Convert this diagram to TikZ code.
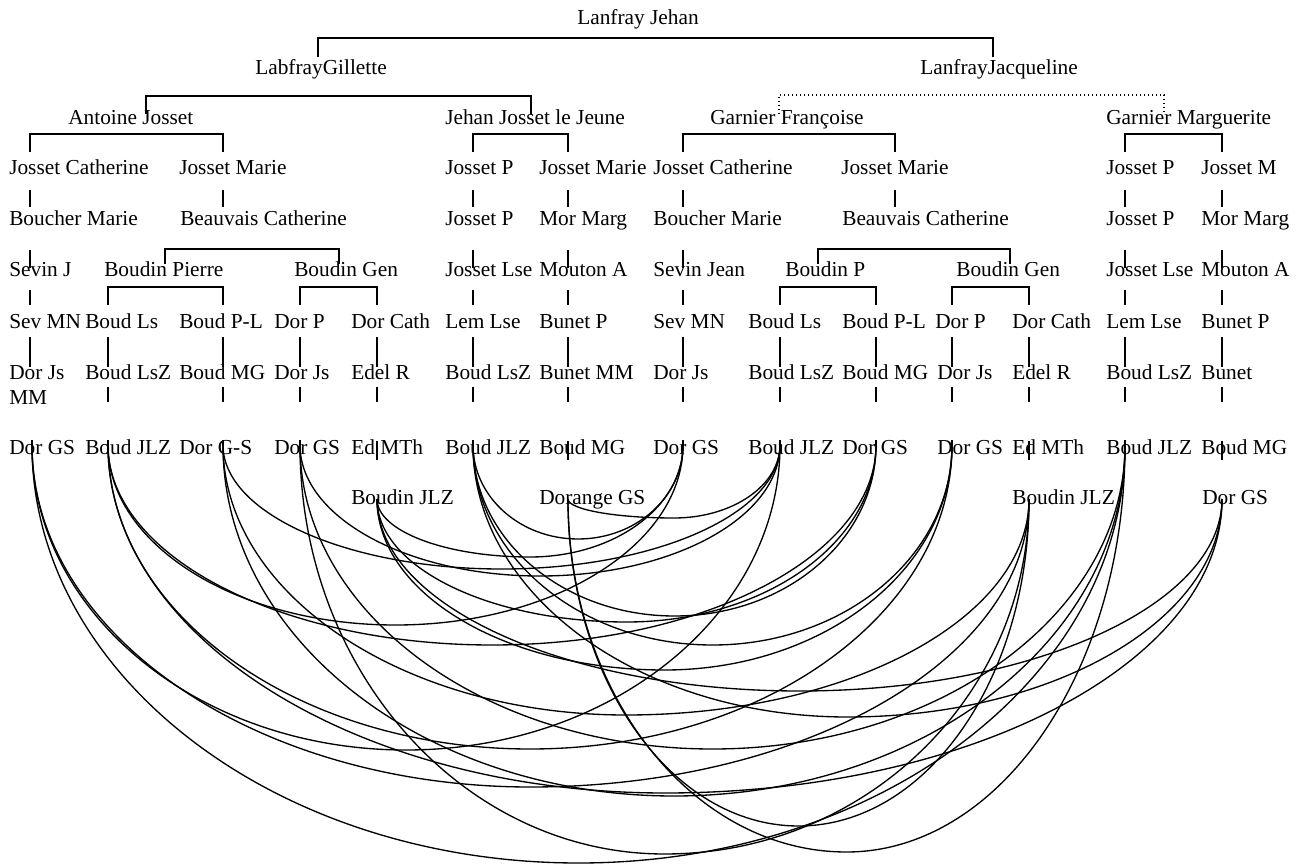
\documentclass[tikz,border=0pt]{standalone}
\usepackage{fontspec}
\setmainfont{Liberation Serif}
\begin{document}
\begin{tikzpicture}[x=0.75pt,y=0.75pt,
  lbl/.style={anchor=base west,inner sep=0pt,font=\fontsize{16}{19}\selectfont},
  ln/.style={line width=1pt},
  dl/.style={line width=1pt,dotted},
  arcln/.style={line width=1pt}]
\useasboundingbox (0,0) rectangle (1300,-866);
% ---- texts ----
\node[lbl] (lj) at (577,-25) {Lanfray Jehan};
\node[lbl] (lg) at (255,-75) {LabfrayGillette};
\node[lbl] (ljq) at (920,-75) {LanfrayJacqueline};
\node[lbl] (aj) at (68,-125) {Antoine Josset};
\node[lbl] (jj) at (445,-125) {Jehan Josset le Jeune};
\node[lbl] (gf) at (710,-125) {Garnier Françoise};
\node[lbl] (gm) at (1106,-125) {Garnier Marguerite};
\foreach \x/\t [count=\i] in {9/Josset Catherine,179/Josset Marie,445/Josset P,539/Josset Marie,653/Josset Catherine,841/Josset Marie,1106/Josset P,1201/Josset M}
  \node[lbl] (ra\i) at (\x,-175) {\t};
\foreach \x/\t [count=\i] in {9/Boucher Marie,180/Beauvais Catherine,445/Josset P,539/Mor Marg,653/Boucher Marie,842/Beauvais Catherine,1106/Josset P,1201/Mor Marg}
  \node[lbl] (rb\i) at (\x,-226) {\t};
\foreach \x/\t [count=\i] in {9/Sevin J,104/Boudin Pierre,294/Boudin Gen,445/Josset Lse,539/Mouton A,653/Sevin Jean,785/Boudin P,956/Boudin Gen,1106/Josset Lse,1201/Mouton A}
  \node[lbl] (rc\i) at (\x,-277) {\t};
\foreach \x/\t [count=\i] in {9/Sev MN,85/Boud Ls,179/Boud P-L,274/Dor P,351/Dor Cath,445/Lem Lse,539/Bunet P,653/Sev MN,748/Boud Ls,842/Boud P-L,935/Dor P,1012/Dor Cath,1106/Lem Lse,1201/Bunet P}
  \node[lbl] (rd\i) at (\x,-329) {\t};
\foreach \x/\t [count=\i] in {9/Dor Js,85/Boud LsZ,179/Boud MG,274/Dor Js,351/Edel R,445/Boud LsZ,539/Bunet MM,653/Dor Js,748/Boud LsZ,842/Boud MG,937/Dor Js,1012/Edel R,1106/Boud LsZ,1201/Bunet}
  \node[lbl] (re\i) at (\x,-379) {\t};
\node[lbl] (mm) at (9,-404) {MM};
\foreach \x/\t [count=\i] in {9/Dor GS,85/Boud JLZ,179/Dor G-S,274/Dor GS,351/Ed MTh,445/Boud JLZ,539/Boud MG,653/Dor GS,748/Boud JLZ,842/Dor GS,937/Dor GS,1012/Ed MTh,1106/Boud JLZ,1201/Boud MG}
  \node[lbl] (rf\i) at (\x,-454) {\t};
\foreach \x/\t [count=\i] in {351/Boudin JLZ,539/Dorange GS,1012/Boudin JLZ,1202/Dor GS}
  \node[lbl] (rg\i) at (\x,-504) {\t};
% ---- tree brackets ----
\draw[ln] (318,-57) -- (318,-38) -- (993,-38) -- (993,-57);
\draw[ln] (146,-114) -- (146,-96) -- (531,-96) -- (531,-114);
\draw[dl] (779,-114) -- (779,-95) -- (1164,-95) -- (1164,-114);
\foreach \a/\b in {30/223,473/568,683/895,1125/1222}
  \draw[ln] (\a,-152) -- (\a,-134) -- (\b,-134) -- (\b,-152);
\foreach \a/\b in {165/339,818/1010}
  \draw[ln] (\a,-264) -- (\a,-249) -- (\b,-249) -- (\b,-264);
\foreach \a/\b in {108/223,300/377,780/876,952/1029}
  \draw[ln] (\a,-305) -- (\a,-287) -- (\b,-287) -- (\b,-305);
\foreach \x in {30,223,473,568,683,895,1125,1222}
  \draw[ln] (\x,-190) -- (\x,-207);
\foreach \x in {30,473,568,683,1125,1222}
  {\draw[ln] (\x,-250) -- (\x,-268);
   \draw[ln] (\x,-290) -- (\x,-305);}
\foreach \x in {30,108,223,300,377,473,568,683,780,876,952,1029,1125,1222}
  \draw[ln] (\x,-337) -- (\x,-367);
\foreach \x in {108,223,300,377,473,568,683,780,876,952,1029,1125,1222}
  \draw[ln] (\x,-387) -- (\x,-402);
\foreach \x in {377,568,1029,1222}
  \draw[ln] (\x,-441) -- (\x,-460);
% ---- arc end points ----
\coordinate (pD1) at (32,-445);
\coordinate (pB1) at (108,-445);
\coordinate (pD2) at (223,-445);
\coordinate (pD3) at (300,-445);
\coordinate (pB2) at (377,-499);
\coordinate (pB3) at (473,-445);
\coordinate (pD4) at (568,-499);
\coordinate (pD5) at (683,-445);
\coordinate (pB4) at (780,-445);
\coordinate (pD6) at (876,-445);
\coordinate (pD7) at (952,-445);
\coordinate (pB5) at (1029,-499);
\coordinate (pB6) at (1125,-445);
\coordinate (pD8) at (1222,-499);
\foreach \p in {D1,B1,D2,D3,B3,D5,B4,D6,D7,B6}
  \draw[arcln] (p\p) -- ++(0,5);
% ---- arcs: two quarter ellipses meeting at the lowest point ----
\foreach \A/\xa/\ya/\B/\xb/\yb/\bb in {
  D1/32/445/B4/780/445/305, D1/32/445/B5/1029/499/315, D1/32/445/B6/1125/445/418,
  D2/223/445/B4/780/445/124, D2/223/445/B5/1029/499/243, D2/223/445/B6/1125/445/351,
  D3/300/445/B4/780/445/131, D3/300/445/B5/1029/499/382, D3/300/445/B6/1125/445/304,
  D4/568/499/B4/780/445/46, D4/568/499/B5/1029/499/327, D4/568/499/B6/1125/445/380,
  B1/108/445/D5/683/445/180, B1/108/445/D6/876/445/200, B1/108/445/D7/952/445/304, B1/108/445/D8/1222/499/321,
  B2/377/499/D5/683/445/85, B2/377/499/D6/876/445/150, B2/377/499/D7/952/445/198, B2/377/499/D8/1222/499/192,
  B3/473/445/D5/683/445/94, B3/473/445/D6/876/445/171, B3/473/445/D7/952/445/200, B3/473/445/D8/1222/499/245}
{
  \pgfmathsetmacro\xm{(\xa+\xb)/2}
  \pgfmathsetmacro\ybot{(\ya+\yb)/2+\bb}
  \pgfmathsetmacro\rxa{0.75*(\xm-\xa)}
  \pgfmathsetmacro\rya{0.75*(\ybot-\ya)}
  \pgfmathsetmacro\rxb{0.75*(\xb-\xm)}
  \pgfmathsetmacro\ryb{0.75*(\ybot-\yb)}
  \coordinate (m\A\B) at (\xm,-\ybot);
  \draw[arcln] (p\A) arc[start angle=180, end angle=270, x radius=\rxa pt, y radius=\rya pt]
    arc[start angle=270, end angle=360, x radius=\rxb pt, y radius=\ryb pt];
}
\end{tikzpicture}
\end{document}
